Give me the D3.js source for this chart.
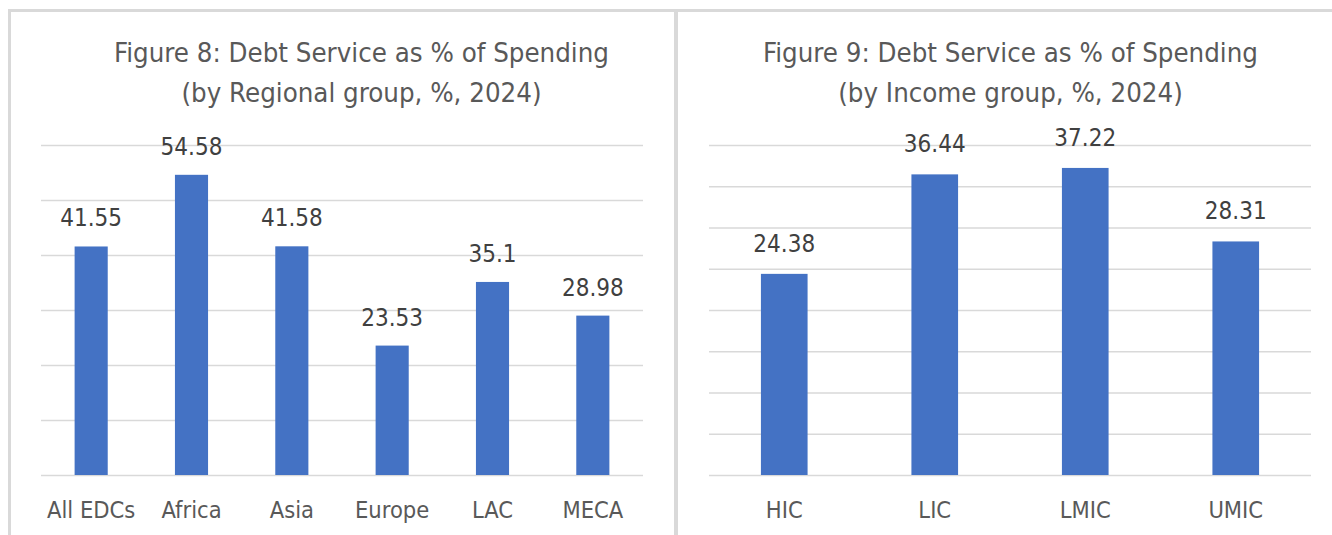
<!DOCTYPE html>
<html lang="en">
<head>
<meta charset="UTF-8">
<script src="https://cdn.jsdelivr.net/npm/d3@7"></script>
<style>
  body { margin: 0; background: #fff; }
  text { font-family: "Liberation Sans Narrow", "DejaVu Sans Condensed", "Open Sans", sans-serif; }
</style>
</head>
<body>
<div id="container"></div>
<script>
// Figure 8 data (regional groups)
const regionCategories = ["All EDCs", "Africa", "Asia", "Europe", "LAC", "MECA"];
const regionValues = [41.55, 54.58, 41.58, 23.53, 35.1, 28.98];
const regionLabels = ["41.55", "54.58", "41.58", "23.53", "35.1", "28.98"];
const regionTicks = [0, 10, 20, 30, 40, 50, 60];
const regionTitle = ["Figure 8: Debt Service as % of Spending", "(by Regional group, %, 2024)"];

// Figure 9 data (income groups)
const incomeCategories = ["HIC", "LIC", "LMIC", "UMIC"];
const incomeValues = [24.38, 36.44, 37.22, 28.31];
const incomeLabels = ["24.38", "36.44", "37.22", "28.31"];
const incomeTicks = [0, 5, 10, 15, 20, 25, 30, 35, 40];
const incomeTitle = ["Figure 9: Debt Service as % of Spending", "(by Income group, %, 2024)"];

const width = 1332;
const height = 535;

const svg = d3.select("#container").append("svg")
    .attr("width", width)
    .attr("height", height);

// panel borders
const borderColor = "#d9d9d9";
svg.append("line").attr("x1", 8).attr("x2", width).attr("y1", 10.5).attr("y2", 10.5)
    .attr("stroke", borderColor).attr("stroke-width", 3);
svg.append("line").attr("x1", 9.5).attr("x2", 9.5).attr("y1", 9).attr("y2", height)
    .attr("stroke", borderColor).attr("stroke-width", 3);
svg.append("line").attr("x1", 676).attr("x2", 676).attr("y1", 9).attr("y2", height)
    .attr("stroke", borderColor).attr("stroke-width", 4);

// shrink or grow a text's font so it spans the given width
function fitText(sel, target) {
  sel.each(function() {
    const el = d3.select(this);
    const fs = parseFloat(el.attr("font-size"));
    const len = this.getComputedTextLength();
    el.attr("font-size", (fs * target / len).toFixed(2));
  });
}

function drawChart(cfg) {
  const g = svg.append("g");

  const x = d3.scaleBand()
      .domain(cfg.categories)
      .range([cfg.left, cfg.right])
      .paddingInner(cfg.padding)
      .paddingOuter(cfg.padding / 2);

  const y = d3.scaleLinear()
      .domain([0, d3.max(cfg.ticks)])
      .range([475, 145]);

  // gridlines
  const grid = g.append("g")
      .attr("transform", `translate(${cfg.left},0)`)
      .call(d3.axisLeft(y).tickValues(cfg.ticks).tickSize(-(cfg.gridRight - cfg.left)).tickFormat(""));
  grid.select(".domain").remove();
  grid.selectAll(".tick line").attr("stroke", "#d9d9d9").attr("stroke-width", 1.3);

  // bars
  g.selectAll("rect.bar")
    .data(cfg.values)
    .join("rect")
      .attr("class", "bar")
      .attr("x", (d, i) => x(cfg.categories[i]))
      .attr("y", d => y(d))
      .attr("width", x.bandwidth())
      .attr("height", d => y(0) - y(d))
      .attr("fill", "#4472c4");

  // data labels
  g.selectAll("text.val")
    .data(cfg.values)
    .join("text")
      .attr("class", "val")
      .attr("x", (d, i) => x(cfg.categories[i]) + x.bandwidth() / 2)
      .attr("y", d => y(d) - cfg.labelGap)
      .attr("text-anchor", "middle")
      .attr("font-size", 24)
      .attr("fill", "#404040")
      .text((d, i) => cfg.labels[i]);

  // category labels
  g.selectAll("text.cat")
    .data(cfg.categories)
    .join("text")
      .attr("class", "cat")
      .attr("x", d => x(d) + x.bandwidth() / 2)
      .attr("y", 518)
      .attr("text-anchor", "middle")
      .attr("font-size", 23.5)
      .attr("fill", "#595959")
      .text(d => d);

  // title
  const t = g.selectAll("text.title")
    .data(cfg.title)
    .join("text")
      .attr("class", "title")
      .attr("x", cfg.titleX)
      .attr("y", (d, i) => 62 + i * 40)
      .attr("text-anchor", "middle")
      .attr("font-size", 26)
      .attr("fill", "#595959")
      .text(d => d);
  fitText(t.filter((d, i) => i === 0), cfg.titleWidth);
  t.filter((d, i) => i === 1).attr("font-size", t.filter((d, i) => i === 0).attr("font-size"));
}

drawChart({
  categories: regionCategories,
  values: regionValues,
  labels: regionLabels,
  ticks: regionTicks,
  title: regionTitle,
  left: 41, right: 643, gridRight: 643,
  padding: 0.67,
  labelGap: 20,
  titleX: 361.5,
  titleWidth: 495
});

drawChart({
  categories: incomeCategories,
  values: incomeValues,
  labels: incomeLabels,
  ticks: incomeTicks,
  title: incomeTitle,
  left: 709, right: 1311, gridRight: 1311,
  padding: 0.69,
  labelGap: 22,
  titleX: 1010.5,
  titleWidth: 495
});
</script>
</body>
</html>
